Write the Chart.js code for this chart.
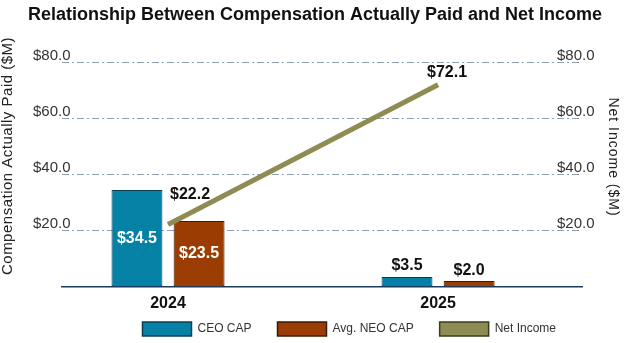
<!DOCTYPE html>
<html>
<head>
<meta charset="utf-8">
<script src="https://cdn.jsdelivr.net/npm/chart.js@4/dist/chart.umd.min.js"></script>
<style>
  body { margin: 0; background: #fff; }
  #wrap { width: 630px; height: 343px; position: relative; }
</style>
</head>
<body>
<div id="wrap"><canvas id="capChart"></canvas></div>
<script>
// fiscal years and values in $M
var years = ['2024', '2025'];
var ceoCap = [34.5, 3.5];
var neoCap = [23.5, 2.0];
var netIncome = [22.2, 72.1];
var yTicks = [0, 20, 40, 60, 80];

var FONT = '"Liberation Sans", Arial, sans-serif';

function points(vals) {
  return vals.map(function (v, i) { return { x: i, y: v }; });
}

function money(v) {
  return '$' + v.toFixed(1);
}

// where the net income labels sit relative to their point
var lineShift = [[22, -30], [9, -12]];

// value labels on bars and line, plus the two rotated axis titles
var valueLabels = {
  id: 'valueLabels',
  afterDatasetsDraw: function (chart) {
    var ctx = chart.ctx;
    ctx.save();
    ctx.font = 'bold 16px ' + FONT;
    ctx.textAlign = 'center';
    ctx.textBaseline = 'middle';
    chart.data.datasets.forEach(function (ds, di) {
      var meta = chart.getDatasetMeta(di);
      meta.data.forEach(function (el, i) {
        var txt = money(ds.data[i].y);
        if (ds.type === 'line') {
          ctx.fillStyle = '#111';
          ctx.fillText(txt, el.x + lineShift[i][0], el.y + lineShift[i][1]);
        } else {
          var h = el.base - el.y;
          if (h > 40) {
            ctx.fillStyle = '#fff';
            ctx.fillText(txt, el.x, el.y + h / 2);
          } else {
            ctx.fillStyle = '#111';
            ctx.fillText(txt, el.x, el.y - 11);
          }
        }
      });
    });
    ctx.restore();
  },
  afterDraw: function (chart) {
    var ctx = chart.ctx;
    ctx.save();
    ctx.fillStyle = '#222';
    ctx.textAlign = 'center';
    ctx.textBaseline = 'middle';
    ctx.letterSpacing = '0.5px';
    ctx.font = '15px ' + FONT;
    ctx.translate(8, 156);
    ctx.rotate(-Math.PI / 2);
    ctx.fillText('Compensation Actually Paid ($M)', 0, 0);
    ctx.restore();

    ctx.save();
    ctx.fillStyle = '#222';
    ctx.textAlign = 'center';
    ctx.textBaseline = 'middle';
    ctx.letterSpacing = '1px';
    ctx.font = '14px ' + FONT;
    ctx.translate(613, 157);
    ctx.rotate(Math.PI / 2);
    ctx.fillText('Net Income ($M)', 0, 0);
    ctx.restore();
  }
};

var legendStroke = ['#0c3d55', '#3e1a05', '#3c3c1e'];

new Chart(document.getElementById('capChart'), {
  type: 'bar',
  data: {
    datasets: [
      {
        label: 'CEO CAP',
        data: points(ceoCap),
        backgroundColor: '#0581a6',
        borderColor: '#0c3d55',
        borderWidth: 1,
        borderSkipped: false,
        order: 1
      },
      {
        label: 'Avg. NEO CAP',
        data: points(neoCap),
        backgroundColor: '#9b3c02',
        borderColor: '#3e1a05',
        borderWidth: 1,
        borderSkipped: false,
        order: 1
      },
      {
        type: 'line',
        label: 'Net Income',
        data: points(netIncome),
        borderColor: '#8e8c52',
        backgroundColor: '#8e8c52',
        borderWidth: 5,
        pointRadius: 0,
        yAxisID: 'yR',
        order: 0
      }
    ]
  },
  options: {
    responsive: true,
    maintainAspectRatio: false,
    animation: false,
    categoryPercentage: 0.46,
    barPercentage: 0.82,
    layout: { padding: 0 },
    plugins: {
      title: {
        display: true,
        text: 'Relationship Between Compensation Actually Paid and Net Income',
        color: '#111',
        font: { family: FONT, size: 18, weight: 'bold' },
        padding: { top: 4, bottom: 37.1 }
      },
      legend: {
        position: 'bottom',
        align: 'end',
        fullSize: false,
        maxHeight: 47,
        labels: {
          boxWidth: 49,
          boxHeight: 14,
          padding: 26,
          color: '#333',
          font: { family: FONT, size: 12 },
          sort: function (a, b) { return a.datasetIndex - b.datasetIndex; },
          generateLabels: function (chart) {
            var items = Chart.defaults.plugins.legend.labels.generateLabels(chart);
            items.forEach(function (it) {
              it.strokeStyle = legendStroke[it.datasetIndex];
              it.lineWidth = 1.5;
              it.lineDash = [];
            });
            return items;
          }
        }
      },
      tooltip: { enabled: false }
    },
    scales: {
      x: {
        type: 'linear',
        position: 'bottom',
        offset: false,
        min: -0.3926,
        max: 1.533,
        afterBuildTicks: function (axis) {
          axis.ticks = years.map(function (y, i) { return { value: i }; });
        },
        afterFit: function (axis) { axis.height = 9.3; },
        grid: { display: false, drawTicks: false },
        border: { display: true, color: '#1c3a5e', width: 1.5 },
        ticks: {
          mirror: true,
          padding: -26,
          color: '#111',
          font: { family: FONT, size: 16, weight: 'bold' },
          callback: function (v) { return years[v]; }
        }
      },
      y: {
        position: 'left',
        min: 0,
        max: 80,
        afterBuildTicks: function (axis) {
          axis.ticks = yTicks.map(function (v) { return { value: v }; });
        },
        afterFit: function (axis) { axis.width = 62; },
        border: { display: false, dash: [7, 3, 2, 3] },
        grid: {
          drawTicks: false,
          lineWidth: 1,
          color: function (c) { return c.tick && c.tick.value === 0 ? 'rgba(0,0,0,0)' : '#8d9fb2'; }
        },
        ticks: {
          mirror: true,
          padding: -29,
          labelOffset: -7,
          color: '#333',
          font: { family: FONT, size: 15 },
          callback: function (v) { return v === 0 ? '' : money(v); }
        }
      },
      yR: {
        position: 'right',
        min: 0,
        max: 80,
        afterBuildTicks: function (axis) {
          axis.ticks = yTicks.map(function (v) { return { value: v }; });
        },
        afterFit: function (axis) { axis.width = 48; },
        border: { display: false },
        grid: { display: false, drawTicks: false },
        ticks: {
          mirror: true,
          padding: 12.5,
          labelOffset: -7,
          color: '#333',
          font: { family: FONT, size: 15 },
          callback: function (v) { return v === 0 ? '' : money(v); }
        }
      }
    }
  },
  plugins: [valueLabels]
});
</script>
</body>
</html>
